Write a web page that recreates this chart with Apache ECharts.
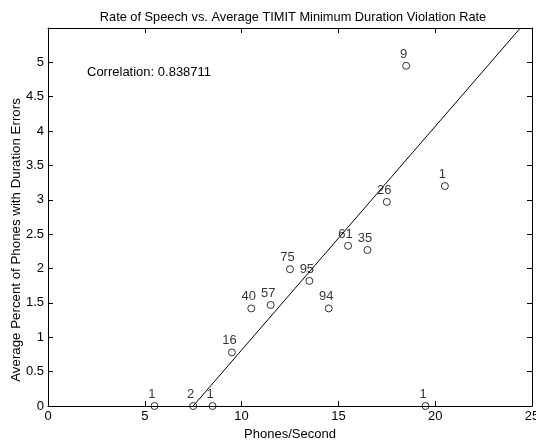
<!DOCTYPE html>
<html><head><meta charset="utf-8">
<script src="https://cdn.jsdelivr.net/npm/echarts@6/dist/echarts.min.js"></script>
<style>html,body{margin:0;padding:0;background:#fff}#c{width:536px;height:441px}</style>
</head><body><div id="c"></div>
<script>
var rates = [5.5, 7.5, 8.5, 9.5, 10.5, 11.5, 12.5, 13.5, 14.5, 15.5, 16.5, 17.5, 18.5, 19.5, 20.5];
var violation = [0, 0, 0, 0.78, 1.42, 1.47, 1.99, 1.82, 1.42, 2.33, 2.27, 2.97, 4.95, 0, 3.2];
var counts = ['1', '2', '1', '16', '40', '57', '75', '95', '94', '61', '35', '26', '9', '1', '1'];
var fitX = [7.5, 24.4];
var fitY = [0, 5.5];
var xTicks = [0, 5, 10, 15, 20, 25];
var yTicks = [0, 0.5, 1, 1.5, 2, 2.5, 3, 3.5, 4, 4.5, 5];
var correlationText = 'Correlation: 0.838711';
var yName = 'Average Percent of Phones with Duration Errors';

var FONT = 'Liberation Sans, Arial, sans-serif';
var FS = 13;
var chart = echarts.init(document.getElementById('c'));
var pts = rates.map(function (x, i) { return { value: [x, violation[i]], label: { formatter: counts[i] } }; });
var fit = fitX.map(function (x, i) { return [x, fitY[i]]; });

function xAx(pos, show) {
  return {
    type: 'value', min: xTicks[0], max: xTicks[xTicks.length - 1], interval: 5, position: pos,
    axisLine: { show: true, onZero: false, lineStyle: { color: '#000', width: 1 } },
    axisTick: { show: true, inside: true, length: 5, lineStyle: { color: '#000' } },
    axisLabel: { show: show, color: '#000', fontFamily: FONT, fontSize: FS, margin: 4, hideOverlap: false },
    splitLine: { show: false },
    name: show ? 'Phones/Second' : '', nameLocation: 'middle', nameGap: 19,
    nameTextStyle: { color: '#000', fontFamily: FONT, fontSize: FS }
  };
}
function yAx(pos, show) {
  return {
    type: 'value', min: 0, max: 5.5, interval: 0.5, position: pos,
    axisLine: { show: true, onZero: false, lineStyle: { color: '#000', width: 1 } },
    axisTick: { show: true, inside: true, length: 5, lineStyle: { color: '#000' } },
    axisLabel: { show: show, color: '#000', fontFamily: FONT, fontSize: FS, margin: 4,
      formatter: function (v) { return yTicks.indexOf(v) >= 0 ? String(v) : ''; } },
    splitLine: { show: false }
  };
}

chart.setOption({
  animation: false,
  backgroundColor: '#fff',
  title: { text: 'Rate of Speech vs. Average TIMIT Minimum Duration Violation Rate', left: 288, textAlign: 'center', top: 6,
    textStyle: { color: '#000', fontFamily: FONT, fontSize: 12.8, fontWeight: 'normal' } },
  grid: { left: 48, right: 4, top: 28, bottom: 35, containLabel: false, outerBoundsMode: 'none' },
  xAxis: [xAx('bottom', true), xAx('top', false)],
  yAxis: [yAx('left', true), yAx('right', false)],
  graphic: [
    { type: 'text', left: 87, top: 66, style: { text: correlationText, fill: '#000', font: FS + 'px ' + FONT } },
    { type: 'text', x: 16, y: 240, rotation: Math.PI / 2,
      style: { text: yName, fill: '#000', font: '13.3px ' + FONT, align: 'center', verticalAlign: 'middle' } }
  ],
  series: [
    { type: 'line', data: fit, symbol: 'none', lineStyle: { color: '#000', width: 1 }, z: 3 },
    { type: 'scatter', data: pts, symbol: 'circle', symbolSize: 7,
      itemStyle: { color: 'rgba(0,0,0,0)', borderColor: '#000', borderWidth: 1 },
      label: { show: true, position: 'top', distance: 1, offset: [-2.5, 0], color: '#000', fontFamily: FONT, fontSize: FS },
      z: 4 }
  ]
});
</script></body></html>
